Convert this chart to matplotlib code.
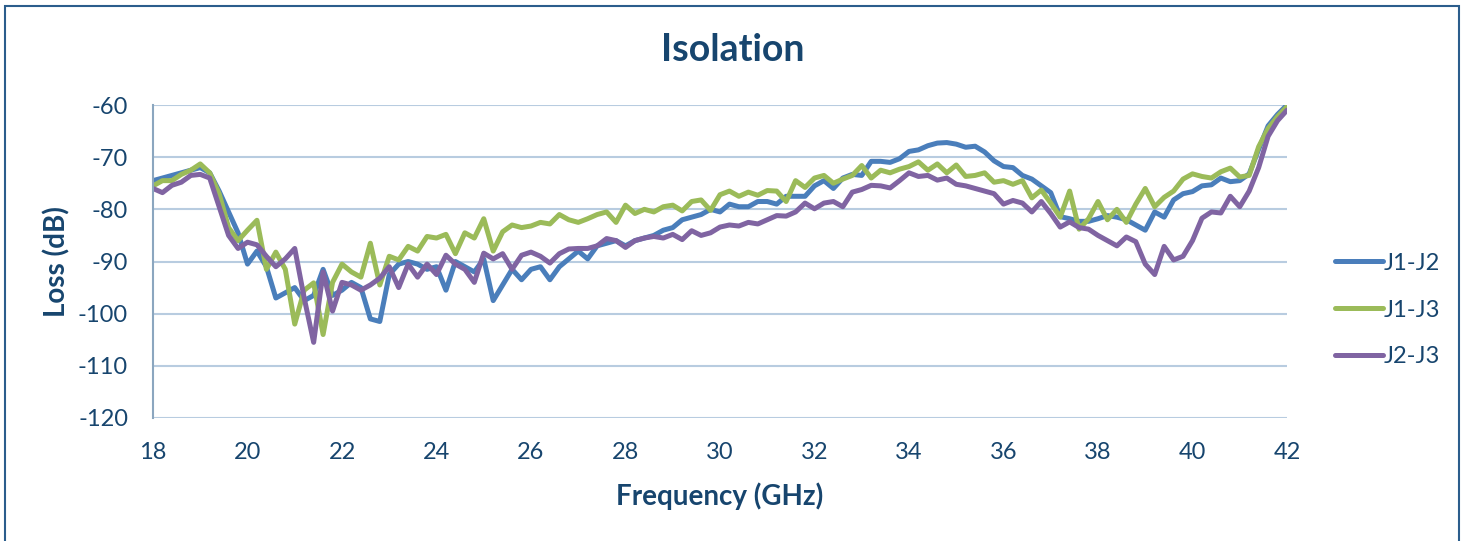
import matplotlib.pyplot as plt
import numpy as np
from matplotlib.patches import Rectangle

# Frequency grid (GHz), 0.2 GHz steps from 18 to 42
freq = np.linspace(18, 42, 121)

j1_j2 = [
    -74.5, -74.0, -73.5, -73.0, -72.5, -72.0, -73.0, -76.5, -80.5, -84.5,
    -90.5, -88.0, -91.0, -97.0, -96.0, -95.0, -97.5, -96.5, -91.5, -96.5,
    -95.5, -94.0, -95.0, -101.0, -101.5, -92.5, -90.5, -90.0, -90.5, -91.5,
    -91.0, -95.5, -90.0, -91.0, -92.0, -89.5, -97.5, -94.5, -91.5, -93.5,
    -91.5, -91.0, -93.5, -91.0, -89.5, -88.0, -89.5, -87.0, -86.5, -86.0,
    -87.0, -86.0, -85.5, -85.0, -84.0, -83.5, -82.0, -81.5, -81.0, -80.0,
    -80.5, -79.0, -79.5, -79.5, -78.5, -78.5, -79.0, -77.5, -77.5, -77.5,
    -75.5, -74.5, -76.0, -74.0, -73.3, -73.5, -70.8, -70.8, -71.0, -70.3,
    -68.9, -68.6, -67.8, -67.3, -67.2, -67.5, -68.1, -67.9, -69.0, -70.7,
    -71.8, -72.0, -73.5, -74.2, -75.5, -76.8, -81.4, -81.8, -82.3, -82.3,
    -81.8, -81.2, -81.5, -82.0, -83.0, -84.0, -80.5, -81.5, -78.2, -77.0,
    -76.6, -75.5, -75.3, -74.0, -74.7, -74.5, -73.2, -68.5, -64.0, -61.8,
    -60.0,
]

j1_j3 = [
    -75.5, -74.5, -74.5, -73.3, -72.5, -71.3, -73.0, -77.0, -83.5, -86.0,
    -84.0, -82.1, -91.5, -88.2, -91.5, -102.0, -95.5, -94.1, -104.0, -94.0,
    -90.5, -92.0, -93.0, -86.5, -94.5, -89.0, -89.7, -87.1, -88.0, -85.2,
    -85.5, -84.8, -88.5, -84.5, -85.5, -81.8, -88.0, -84.3, -83.0, -83.5,
    -83.2, -82.5, -82.8, -81.0, -82.0, -82.5, -81.8, -81.0, -80.5, -82.5,
    -79.2, -80.8, -80.0, -80.5, -79.5, -79.2, -80.3, -78.5, -78.2, -80.2,
    -77.2, -76.5, -77.5, -76.7, -77.3, -76.4, -76.5, -78.5, -74.5, -75.8,
    -74.0, -73.5, -75.0, -74.2, -73.5, -71.6, -74.0, -72.5, -73.0, -72.3,
    -71.8, -70.9, -72.5, -71.3, -73.0, -71.5, -73.7, -73.5, -73.0, -74.8,
    -74.5, -75.2, -74.5, -77.8, -76.3, -78.8, -81.5, -76.5, -83.8, -81.8,
    -78.5, -82.0, -80.0, -82.5, -79.0, -76.0, -79.5, -77.7, -76.5, -74.2,
    -73.2, -73.7, -74.0, -72.8, -72.1, -73.8, -73.5, -68.0, -64.5, -62.2,
    -60.3,
]

j2_j3 = [
    -76.0, -76.8, -75.4, -74.8, -73.5, -73.3, -74.0, -79.5, -85.0, -87.5,
    -86.3, -86.8, -89.0, -91.0, -89.5, -87.5, -97.0, -105.5, -92.0, -99.5,
    -94.0, -94.5, -95.5, -94.5, -93.2, -91.0, -95.0, -90.5, -93.0, -90.5,
    -92.5, -88.8, -90.5, -91.5, -94.0, -88.4, -89.5, -88.5, -91.5, -88.8,
    -88.2, -89.0, -90.3, -88.5, -87.6, -87.5, -87.5, -87.0, -85.6, -86.0,
    -87.3, -86.0, -85.5, -85.2, -85.5, -84.8, -85.8, -84.1, -85.0, -84.5,
    -83.4, -83.0, -83.2, -82.5, -82.8, -82.0, -81.2, -81.3, -80.5, -78.8,
    -79.9, -78.8, -78.5, -79.5, -76.7, -76.2, -75.4, -75.5, -75.9, -74.5,
    -73.0, -73.7, -73.5, -74.4, -74.0, -75.2, -75.5, -76.0, -76.5, -77.0,
    -79.0, -78.3, -78.8, -80.5, -78.5, -80.8, -83.4, -82.4, -83.5, -83.8,
    -85.0, -86.0, -87.0, -85.3, -86.2, -90.5, -92.5, -87.1, -89.7, -89.0,
    -86.0, -81.7, -80.5, -80.7, -77.5, -79.5, -76.5, -72.0, -66.0, -63.0,
    -61.0,
]

series = [("J1-J2", j1_j2, "#4A7EBB"), ("J1-J3", j1_j3, "#9BBB59"), ("J2-J3", j2_j3, "#8064A2")]
x_ticks = [18, 20, 22, 24, 26, 28, 30, 32, 34, 36, 38, 40, 42]
y_ticks = [-60, -70, -80, -90, -100, -110, -120]

text_col = "#17456E"
grid_col = "#B8CCE0"

plt.rcParams['font.family'] = ['Lato', 'DejaVu Sans']
plt.rcParams['axes.unicode_minus'] = False

fig = plt.figure(figsize=(14.66, 5.41), dpi=100)
ax = fig.add_axes([153 / 1466, 1 - 418 / 541, (1287 - 153) / 1466, (418 - 105) / 541])

for name, vals, col in series:
    ax.plot(freq, vals, color=col, lw=3.6, label=name,
            solid_capstyle='round', solid_joinstyle='round')

ax.set_xlim(18, 42)
ax.set_ylim(-120, -60)
ax.set_xticks(x_ticks)
ax.set_yticks(y_ticks)
ax.tick_params(length=0, labelsize=17, labelcolor=text_col)
ax.tick_params(axis='x', pad=17)
ax.tick_params(axis='y', pad=18)
ax.grid(axis='y', color=grid_col, lw=1.5)
ax.set_axisbelow(True)
for s in ['top', 'right', 'bottom']:
    ax.spines[s].set_visible(False)
ax.spines['left'].set_color("#8BA6BF")
ax.spines['left'].set_linewidth(1.5)

fig.text(733 / 1466, 1 - 50 / 541, "Isolation", fontsize=27, fontweight='bold',
         color=text_col, ha='center', va='center')
ax.set_xlabel("Frequency (GHz)", fontsize=20, fontweight='bold', color=text_col, labelpad=14)
ax.set_ylabel("Loss (dB)", fontsize=20, fontweight='bold', color=text_col, labelpad=5)

leg = ax.legend(loc='center left', bbox_to_anchor=(1.024, 0.345), frameon=False,
                fontsize=17, labelspacing=1.1, handlelength=2.0, handletextpad=0.05)
for t in leg.get_texts():
    t.set_color(text_col)

fig.patches.append(Rectangle((5 / 1466, -0.1), 1454 / 1466, 1.1 - 6 / 541,
                             transform=fig.transFigure, fill=False,
                             edgecolor="#2B5D8C", lw=1.5))

fig.savefig("out.png", dpi=100)
